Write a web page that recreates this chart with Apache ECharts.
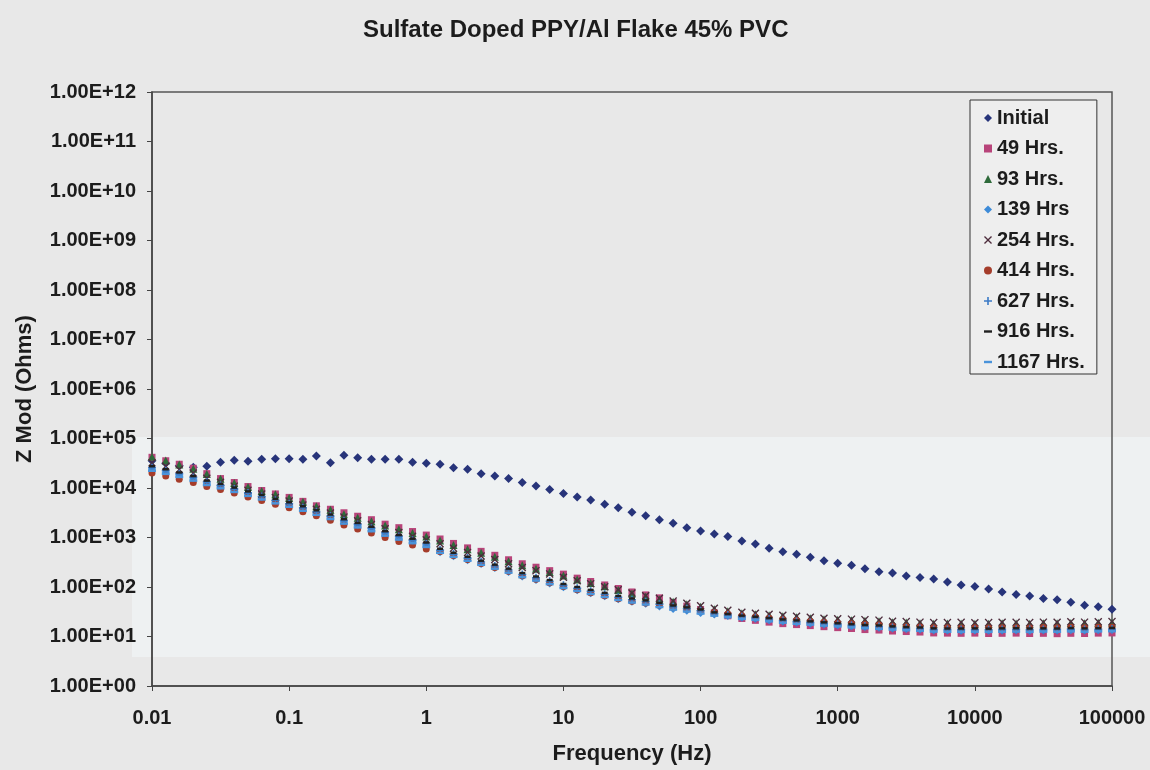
<!DOCTYPE html>
<html>
<head>
<meta charset="utf-8">
<title>Sulfate Doped PPY/Al Flake 45% PVC</title>
<script src="https://cdn.jsdelivr.net/npm/echarts@6/dist/echarts.min.js"></script>
<style>
  html, body { margin: 0; padding: 0; background: #e8e8e8; }
  #chart { width: 1150px; height: 770px; }
</style>
</head>
<body>
<div id="chart"></div>
<script>
// Measurement frequencies, 10 points per decade (Hz)
const frequencyHz = [
  0.01, 0.0126, 0.0158, 0.02, 0.0251, 0.0316, 0.0398, 0.0501, 0.0631, 0.0794,
  0.1, 0.126, 0.158, 0.2, 0.251, 0.316, 0.398, 0.501, 0.631, 0.794,
  1, 1.26, 1.58, 2, 2.51, 3.16, 3.98, 5.01, 6.31, 7.94,
  10, 12.6, 15.8, 20, 25.1, 31.6, 39.8, 50.1, 63.1, 79.4,
  100, 126, 158, 200, 251, 316, 398, 501, 631, 794,
  1000, 1260, 1580, 2000, 2510, 3160, 3980, 5010, 6310, 7940,
  10000, 12600, 15800, 20000, 25100, 31600, 39800, 50100, 63100, 79400,
  100000
];

// |Z| in Ohms for each exposure time
const zInitial = [
  35500, 31600, 28200, 26300, 27500, 33100, 36300, 34700, 38000, 38900,
  38900, 38000, 44200, 32400, 45700, 40700, 38000, 38000, 38000, 33100,
  31600, 30200, 25700, 24000, 19500, 17400, 15500, 12900, 11000, 9330,
  7760, 6610, 5750, 4680, 3980, 3240, 2750, 2290, 1950, 1580,
  1350, 1170, 1050, 851, 741, 603, 513, 457, 398, 339,
  302, 275, 234, 204, 191, 166, 155, 145, 126, 110,
  102, 91.2, 79.4, 70.8, 66.1, 58.9, 55.0, 49.0, 42.7, 39.8,
  35.5
];
const z49 = [
  41700, 35500, 30200, 25100, 19500, 15500, 12900, 10700, 8910, 7590,
  6460, 5370, 4370, 3720, 3160, 2690, 2290, 1860, 1580, 1320,
  1120, 933, 759, 617, 525, 437, 355, 295, 251, 214,
  182, 151, 129, 110, 93.3, 79.4, 69.2, 60.3, 48.5, 41.1,
  35.1, 30.1, 26.2, 23.1, 21.2, 19.5, 18.2, 17.4, 16.6, 15.8,
  15.1, 14.5, 13.8, 13.5, 12.9, 12.6, 12.3, 11.8, 11.7, 11.6,
  11.7, 11.5, 11.6, 11.7, 11.5, 11.6, 11.4, 11.6, 11.5, 11.7,
  11.8
];
const z93 = [
  42700, 36100, 29800, 24500, 19100, 15300, 12600, 10500, 8700, 7480,
  6310, 5250, 4270, 3630, 2950, 2510, 2140, 1740, 1470, 1230,
  1050, 871, 708, 576, 490, 408, 331, 275, 234, 200,
  170, 141, 120, 103, 87.1, 74.1, 64.6, 56.2, 50.1, 44.7,
  39.8, 35.5, 32.4, 29.5, 28.2, 26.9, 25.7, 24.5, 23.4, 22.4,
  21.9, 21.4, 20.9, 20.4, 19.5, 19.1, 18.6, 18.2, 18.3, 18.4,
  18.2, 18.2, 18.5, 18.4, 18.2, 18.6, 18.5, 18.8, 18.6, 19.0,
  19.1
];
const z139 = [
  24000, 20800, 18000, 15200, 12400, 10600, 8950, 7450, 6310, 5270,
  4490, 3730, 3090, 2540, 2050, 1720, 1440, 1170, 977, 826,
  692, 506, 420, 349, 290, 242, 201, 163, 139, 118,
  98.6, 85.7, 74.5, 64.9, 56.4, 50.1, 45.7, 40.6, 36.1, 33.0,
  30.0, 27.8, 25.8, 23.9, 22.8, 21.4, 20.0, 19.1, 18.3, 17.5,
  16.8, 16.1, 15.5, 15.1, 14.5, 14.1, 13.8, 13.3, 13.2, 13.1,
  13.2, 13.0, 13.2, 13.3, 13.1, 13.3, 13.2, 13.4, 13.2, 13.4,
  13.5
];
const z254 = [
  32200, 27600, 23700, 20000, 15800, 13000, 10900, 9040, 7590, 6400,
  5450, 4530, 3720, 3110, 2580, 2180, 1840, 1500, 1260, 1060,
  895, 745, 610, 500, 422, 358, 296, 248, 214, 184,
  158, 134, 116, 101, 87.5, 75.7, 66.8, 59.0, 51.9, 46.8,
  41.7, 37.2, 33.9, 30.9, 29.5, 28.2, 26.9, 25.7, 24.5, 23.4,
  22.9, 22.4, 21.9, 21.4, 20.4, 20.0, 19.5, 19.1, 19.1, 19.3,
  19.0, 19.1, 19.4, 19.3, 19.1, 19.5, 19.4, 19.8, 19.5, 19.9,
  20.0
];
const z414 = [
  20000, 17400, 15100, 12900, 10700, 9330, 7940, 6610, 5620, 4680,
  3980, 3310, 2750, 2240, 1780, 1480, 1230, 1000, 832, 708,
  589, 522, 434, 360, 300, 249, 207, 169, 144, 122,
  102, 88.3, 76.7, 66.7, 57.9, 51.4, 47.6, 43.3, 39.2, 36.1,
  33.3, 30.6, 28.4, 26.3, 24.8, 23.4, 22.1, 21.1, 20.2, 19.3,
  18.6, 18.0, 17.4, 17.0, 16.2, 15.8, 15.5, 15.1, 15.0, 14.9,
  15.0, 14.8, 15.1, 15.0, 14.9, 15.2, 15.0, 15.3, 15.1, 15.3,
  15.4
];
const z627 = [
  25700, 22300, 19300, 16300, 13200, 11300, 9580, 7970, 6750, 5640,
  4800, 3990, 3310, 2720, 2190, 1840, 1540, 1250, 1050, 884,
  740, 557, 462, 384, 319, 266, 221, 179, 153, 130,
  108, 94.3, 82.0, 71.4, 62.0, 55.1, 50.3, 44.7, 39.7, 36.3,
  33.0, 29.2, 27.1, 25.1, 23.9, 22.5, 21.0, 20.1, 19.2, 18.4,
  17.6, 16.9, 16.3, 15.9, 15.2, 14.8, 14.5, 13.9, 13.9, 13.8,
  13.8, 13.7, 13.9, 14.0, 13.8, 13.9, 13.9, 14.1, 13.9, 14.0,
  14.2
];
const z916 = [
  27500, 23900, 20600, 17400, 14100, 12100, 10200, 8530, 7220, 6030,
  5140, 4270, 3540, 2910, 2340, 1970, 1650, 1340, 1120, 946,
  792, 593, 492, 409, 340, 283, 235, 191, 163, 138,
  115, 100, 87.3, 76.0, 66.0, 58.7, 53.6, 47.6, 42.3, 38.7,
  35.1, 30.7, 28.5, 26.4, 25.1, 23.6, 22.1, 21.1, 20.2, 19.3,
  18.5, 17.7, 17.1, 16.7, 16.0, 15.5, 15.2, 14.6, 14.5, 14.5,
  14.6, 14.4, 14.6, 14.7, 14.5, 14.6, 14.5, 14.8, 14.6, 14.7,
  14.9
];
const z1167 = [
  22300, 19300, 16700, 14100, 11500, 9860, 8320, 6930, 5870, 4900,
  4180, 3470, 2870, 2360, 1910, 1600, 1340, 1090, 909, 768,
  644, 491, 407, 339, 281, 235, 195, 158, 135, 114,
  95.6, 83.1, 72.3, 63.0, 54.7, 48.6, 44.3, 39.4, 35.0, 32.0,
  29.1, 26.4, 24.5, 22.7, 21.7, 20.3, 19.0, 18.1, 17.4, 16.6,
  16.0, 15.3, 14.7, 14.3, 13.8, 13.4, 13.1, 12.6, 12.5, 12.4,
  12.5, 12.4, 12.5, 12.6, 12.4, 12.6, 12.5, 12.7, 12.5, 12.7,
  12.8
];

const seriesNames = ['Initial', '49 Hrs.', '93 Hrs.', '139 Hrs', '254 Hrs.',
                     '414 Hrs.', '627 Hrs.', '916 Hrs.', '1167 Hrs.'];

// Axis tick labels, one per decade
const xTickLabels = ['0.01', '0.1', '1', '10', '100', '1000', '10000', '100000'];
const yTickLabels = ['1.00E+00', '1.00E+01', '1.00E+02', '1.00E+03', '1.00E+04',
                     '1.00E+05', '1.00E+06', '1.00E+07', '1.00E+08', '1.00E+09',
                     '1.00E+10', '1.00E+11', '1.00E+12'];

const FONT = '"Liberation Sans", Arial, Helvetica, sans-serif';
const INK = '#1c1c1c';

// Marker shapes
const xMark = 'path://M0,1.2L1.2,0L5,3.8L8.8,0L10,1.2L6.2,5L10,8.8L8.8,10L5,6.2L1.2,10L0,8.8L3.8,5Z';
const plusMark = 'path://M4,0H6V4H10V6H6V10H4V6H0V4H4Z';
const dashMark = 'path://M0,0H10V3H0Z';

const styles = [
  { symbol: 'diamond',  size: 9,        color: '#27347a' },
  { symbol: 'rect',     size: 7,        color: '#b8447a' },
  { symbol: 'triangle', size: 8,        color: '#2e6a3a' },
  { symbol: 'diamond',  size: 8,        color: '#3d8bd8' },
  { symbol: xMark,      size: 8,        color: '#4d2c3c' },
  { symbol: 'circle',   size: 7,        color: '#a53d2b' },
  { symbol: plusMark,   size: 8,        color: '#3b7ac6' },
  { symbol: dashMark,   size: [6, 2.5], color: '#202020' },
  { symbol: dashMark,   size: [8, 2.5], color: '#4a93da' }
];

const seriesValues = [zInitial, z49, z93, z139, z254, z414, z627, z916, z1167];

const chart = echarts.init(document.getElementById('chart'), null, { renderer: 'canvas' });

const decade = v => Math.round(Math.log10(v));

chart.setOption({
  backgroundColor: '#e8e8e8',
  animation: false,
  textStyle: { fontFamily: FONT },
  title: {
    text: 'Sulfate Doped PPY/Al Flake 45% PVC',
    left: 358,
    top: 13,
    textStyle: { fontFamily: FONT, fontSize: 24, fontWeight: 'bold', color: INK }
  },
  // lighter paper band behind the lower part of the plot
  graphic: [{
    type: 'rect',
    z: -10,
    silent: true,
    shape: { x: 132, y: 437, width: 1018, height: 220 },
    style: { fill: '#eef1f2' }
  }],
  grid: {
    left: 152, right: 38, top: 92, bottom: 83,
    show: true, borderColor: '#555', borderWidth: 1.5, backgroundColor: 'transparent'
  },
  legend: {
    orient: 'vertical',
    left: 970,
    top: 100,
    padding: [8, 12, 2, 14],
    itemGap: 10.5,
    itemWidth: 8,
    itemHeight: 8,
    backgroundColor: '#eeeeee',
    borderColor: '#333',
    borderWidth: 1,
    borderRadius: 0,
    data: seriesNames,
    textStyle: { fontFamily: FONT, fontSize: 20, fontWeight: 'bold', color: INK, lineHeight: 20 }
  },
  xAxis: {
    type: 'log',
    logBase: 10,
    min: 0.01,
    max: 100000,
    interval: 1,
    name: 'Frequency (Hz)',
    nameLocation: 'middle',
    nameGap: 57,
    nameTextStyle: { fontFamily: FONT, fontSize: 22, fontWeight: 'bold', color: INK },
    axisLine: { show: true, lineStyle: { color: '#444', width: 1.5 } },
    axisTick: { show: true, length: 5, lineStyle: { color: '#444' } },
    axisLabel: {
      margin: 22,
      fontFamily: FONT, fontSize: 20, fontWeight: 'bold', color: INK,
      formatter: v => xTickLabels[decade(v) + 2]
    },
    splitLine: { show: false }
  },
  yAxis: {
    type: 'log',
    logBase: 10,
    min: 1,
    max: 1e12,
    interval: 1,
    name: 'Z Mod (Ohms)',
    nameLocation: 'middle',
    nameGap: 116,
    nameRotate: 90,
    nameTextStyle: { fontFamily: FONT, fontSize: 22, fontWeight: 'bold', color: INK },
    axisLine: { show: true, lineStyle: { color: '#444', width: 1.5 } },
    axisTick: { show: true, length: 5, lineStyle: { color: '#444' } },
    axisLabel: {
      margin: 16,
      fontFamily: FONT, fontSize: 20, fontWeight: 'bold', color: INK,
      formatter: v => yTickLabels[decade(v)]
    },
    splitLine: { show: false }
  },
  series: seriesNames.map((name, k) => ({
    name,
    type: 'scatter',
    symbol: styles[k].symbol,
    symbolSize: styles[k].size,
    itemStyle: { color: styles[k].color, opacity: 1 },
    data: frequencyHz.map((f, i) => [f, seriesValues[k][i]])
  }))
});
</script>
</body>
</html>
